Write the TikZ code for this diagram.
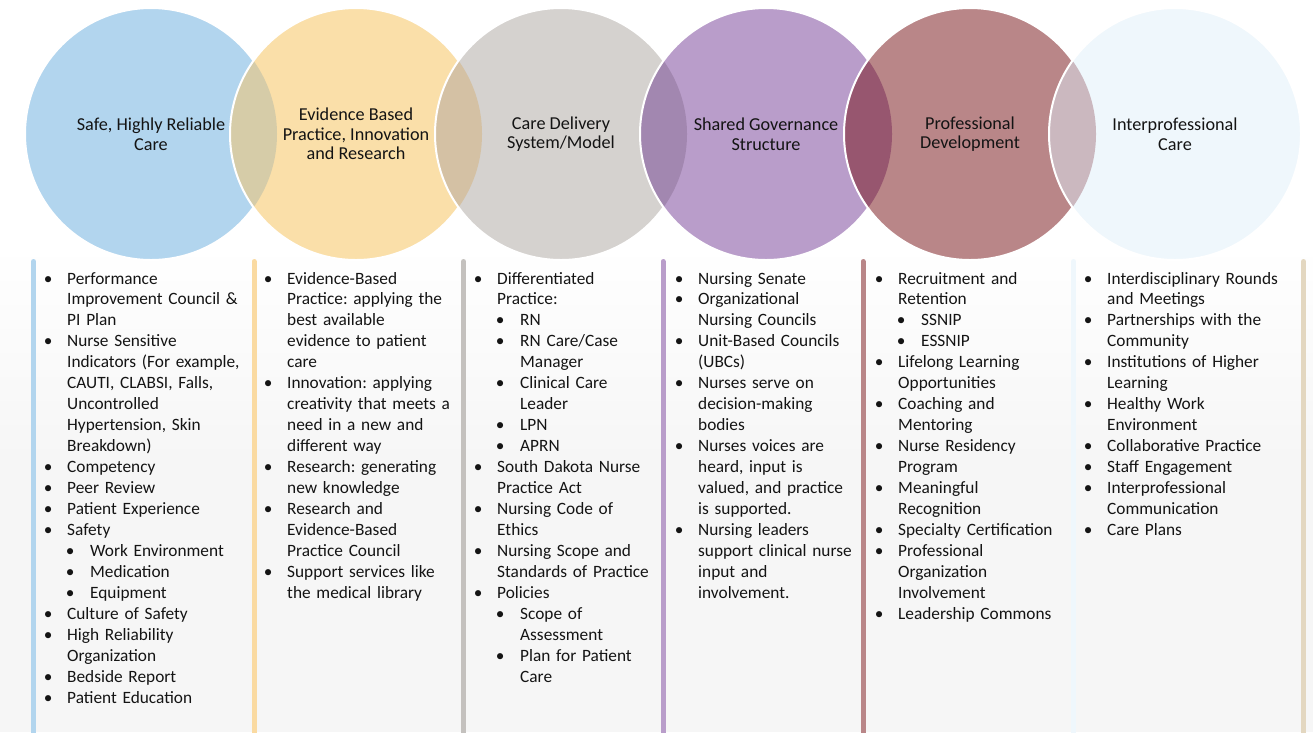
\documentclass[tikz,border=0pt]{standalone}
\usepackage{fontspec}
\setmainfont{Carlito}
\frenchspacing
\definecolor{cA}{HTML}{B2D5EE}
\definecolor{cB}{HTML}{FADFA9}
\definecolor{cC}{HTML}{D5D2CF}
\definecolor{cD}{HTML}{B99DCA}
\definecolor{cE}{HTML}{B98688}
\definecolor{cF}{HTML}{EFF7FC}
\definecolor{lAB}{HTML}{D6CCA8}
\definecolor{lBC}{HTML}{D4C1A4}
\definecolor{lCD}{HTML}{A287B0}
\definecolor{lDE}{HTML}{97566F}
\definecolor{lEF}{HTML}{CBB8BF}
\definecolor{bG}{HTML}{E3D7C0}
\definecolor{bgray}{HTML}{F6F6F6}
\definecolor{txt}{HTML}{141414}
\newcommand\mybul{\leavevmode\llap{\makebox[38pt][c]{\textbullet}}}
\newcommand\mysbul{\leavevmode\hspace*{23pt}\llap{\makebox[40pt][c]{\textbullet}}}
\newcommand\mysind{\leavevmode\hspace*{23pt}}
\tikzset{
  circtext/.style={align=center, text=txt, font=\fontsize{18.2}{19.7}\selectfont\frenchspacing, inner sep=0pt},
  listcol/.style={anchor=base west, text width=215pt, align=left, inner sep=0pt, text=txt, font=\fontsize{17.3}{20.95}\selectfont\frenchspacing},
  colbar/.style={line width=5pt, line cap=round},
  ring/.style={draw=white, line width=2pt}
}
\begin{document}
\begin{tikzpicture}[x=1pt,y=-1pt]
\useasboundingbox (0,0) rectangle (1313,732);
\fill[white] (0,0) rectangle (1313,732);
\shade[top color=white, bottom color=bgray] (0,245) rectangle (1313,460);
\fill[bgray] (0,460) rectangle (1313,732);
% circles
\def\R{126}
\coordinate (k1) at (151,134);
\coordinate (k2) at (356,134);
\coordinate (k3) at (561,134);
\coordinate (k4) at (766,134);
\coordinate (k5) at (970,134);
\coordinate (k6) at (1175,134);
\fill[cA] (k1) circle (\R);
\draw[ring] (k1) circle (\R);
\foreach \p/\q/\c/\l in {k1/k2/cB/lAB, k2/k3/cC/lBC, k3/k4/cD/lCD, k4/k5/cE/lDE, k5/k6/cF/lEF}{
  \fill[\c] (\q) circle (\R);
  \begin{scope}
    \clip (\p) circle (\R);
    \fill[\l] (\q) circle (\R);
  \end{scope}
  \draw[ring] (\q) circle (\R);
}
\node[circtext] (t1) at (151,134) {Safe, Highly Reliable\\Care};
\node[circtext] (t2) at (356,134) {Evidence Based\\Practice, Innovation\\and Research};
\node[circtext] (t3) at (561,134) {Care Delivery\\System/Model};
\node[circtext] (t4) at (766,134) {Shared Governance\\Structure};
\node[circtext] (t5) at (970,134) {Professional\\Development};
\node[circtext] (t6) at (1175,134) {Interprofessional\\Care};
% bars
\draw[colbar, cA] (33.5,261.5) -- (33.5,740);
\draw[colbar, cB!95!orange] (254,261.5) -- (254,740);
\draw[colbar, cC!92!black] (463.5,261.5) -- (463.5,740);
\draw[colbar, cD] (663,261.5) -- (663,740);
\draw[colbar, cE] (863,261.5) -- (863,740);
\draw[colbar, cF] (1073.5,261.5) -- (1073.5,740);
\draw[colbar, bG] (1303.5,261.5) -- (1303.5,740);
% lists
\node[listcol] (l1) at (67,284) {\mybul Performance\\
Improvement Council \&\\
PI Plan\\
\mybul Nurse Sensitive\\
Indicators (For example,\\
CAUTI, CLABSI, Falls,\\
Uncontrolled\\
Hypertension, Skin\\
Breakdown)\\
\mybul Competency\\
\mybul Peer Review\\
\mybul Patient Experience\\
\mybul Safety\\
\mysbul Work Environment\\
\mysbul Medication\\
\mysbul Equipment\\
\mybul Culture of Safety\\
\mybul High Reliability\\
Organization\\
\mybul Bedside Report\\
\mybul Patient Education};
\node[listcol] (l2) at (287,284) {\mybul Evidence-Based\\
Practice: applying the\\
best available\\
evidence to patient\\
care\\
\mybul Innovation: applying\\
creativity that meets a\\
need in a new and\\
different way\\
\mybul Research: generating\\
new knowledge\\
\mybul Research and\\
Evidence-Based\\
Practice Council\\
\mybul Support services like\\
the medical library};
\node[listcol] (l3) at (497,284) {\mybul Differentiated\\
Practice:\\
\mysbul RN\\
\mysbul RN Care/Case\\
\mysind Manager\\
\mysbul Clinical Care\\
\mysind Leader\\
\mysbul LPN\\
\mysbul APRN\\
\mybul South Dakota Nurse\\
Practice Act\\
\mybul Nursing Code of\\
Ethics\\
\mybul Nursing Scope and\\
Standards of Practice\\
\mybul Policies\\
\mysbul Scope of\\
\mysind Assessment\\
\mysbul Plan for Patient\\
\mysind Care};
\node[listcol] (l4) at (698,284) {\mybul Nursing Senate\\
\mybul Organizational\\
Nursing Councils\\
\mybul Unit-Based Councils\\
(UBCs)\\
\mybul Nurses serve on\\
decision-making\\
bodies\\
\mybul Nurses voices are\\
heard, input is\\
valued, and practice\\
is supported.\\
\mybul Nursing leaders\\
support clinical nurse\\
input and\\
involvement.};
\node[listcol] (l5) at (898,284) {\mybul Recruitment and\\
Retention\\
\mysbul SSNIP\\
\mysbul ESSNIP\\
\mybul Lifelong Learning\\
Opportunities\\
\mybul Coaching and\\
Mentoring\\
\mybul Nurse Residency\\
Program\\
\mybul Meaningful\\
Recognition\\
\mybul Specialty Certification\\
\mybul Professional\\
Organization\\
Involvement\\
\mybul Leadership Commons};
\node[listcol] (l6) at (1107,284) {\mybul Interdisciplinary Rounds\\
and Meetings\\
\mybul Partnerships with the\\
Community\\
\mybul Institutions of Higher\\
Learning\\
\mybul Healthy Work\\
Environment\\
\mybul Collaborative Practice\\
\mybul Staff Engagement\\
\mybul Interprofessional\\
Communication\\
\mybul Care Plans};
\end{tikzpicture}
\end{document}
